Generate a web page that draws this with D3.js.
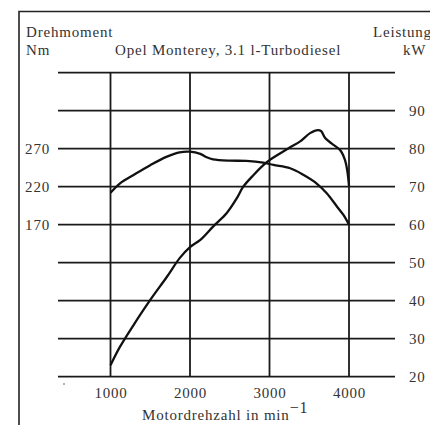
<!DOCTYPE html>
<html>
<head>
<meta charset="utf-8">
<script src="https://cdn.jsdelivr.net/npm/d3@7"></script>
<style>
  body { margin: 0; background: #fff; }
  svg text { font-family: "Liberation Serif", "Times New Roman", serif; fill: #333; letter-spacing: 0.8px; }
</style>
</head>
<body>
<svg id="chart" width="430" height="425"></svg>
<script>
// Motordrehzahl (min^-1) and Leistung (kW)
const powerRpm = [1000, 1120, 1290, 1500, 1710, 1870, 2000, 2130, 2290, 2460, 2590, 2670, 2800, 2940, 3000, 3240, 3390, 3510, 3610, 3650, 3700, 3780, 3890, 3950, 3980, 4000];
const powerKw  = [23, 27.9, 33.6, 40.2, 46.3, 51.2, 54.1, 56.0, 59.5, 63.0, 67.0, 70.0, 73.1, 76.0, 77.0, 80.1, 82.0, 84.1, 84.9, 84.6, 82.8, 81.4, 79.6, 77.0, 74.0, 70.2];

// Drehmoment (Nm)
const torqueRpm = [1000, 1120, 1290, 1500, 1710, 1870, 2000, 2130, 2210, 2290, 2500, 2710, 2920, 3050, 3260, 3430, 3590, 3720, 3850, 3930, 4000];
const torqueNm  = [212, 224.5, 235.4, 248.3, 259.5, 265.3, 266.1, 263.1, 258.7, 256.1, 254.3, 253.9, 251.6, 248.6, 244.3, 235.4, 224.5, 211.4, 193.7, 182.8, 170];

const rpmTicks = [1000, 2000, 3000, 4000];
const kwGrid = [20, 30, 40, 50, 60, 70, 80, 90, 100];
const kwLabels = [20, 30, 40, 50, 60, 70, 80, 90];
const nmLabels = [170, 220, 270];

const svg = d3.select('#chart');

const gridLeft = 58, gridRight = 395;
const x = d3.scaleLinear().domain([1000, 4000]).range([110.5, 349]);
const y = d3.scaleLinear().domain([20, 100]).range([376.7, 72.7]);
// torque axis shares the grid: 50 Nm per 10 kW, 270 Nm on the 80 kW line
const yNm = d3.scaleLinear().domain([-30, 370]).range([376.7, 72.7]);

// frame
svg.append('path')
  .attr('d', 'M19,425 L19,11.5 L430,11.5')
  .attr('fill', 'none').attr('stroke', '#222').attr('stroke-width', 1.6);

// grid
svg.append('g').selectAll('line').data(kwGrid).join('line')
  .attr('x1', gridLeft).attr('x2', gridRight)
  .attr('y1', d => y(d)).attr('y2', d => y(d))
  .attr('stroke', '#1a1a1a').attr('stroke-width', 1.8);
svg.append('g').selectAll('line').data(rpmTicks).join('line')
  .attr('x1', d => x(d)).attr('x2', d => x(d))
  .attr('y1', y(100)).attr('y2', y(20))
  .attr('stroke', '#1a1a1a').attr('stroke-width', 1.8);

// axes (labels only)
const leftAxis = svg.append('g').attr('transform', `translate(${gridLeft},0)`)
  .call(d3.axisLeft(yNm).tickValues(nmLabels).tickSize(0).tickPadding(8));
const rightAxis = svg.append('g').attr('transform', `translate(${gridRight},0)`)
  .call(d3.axisRight(y).tickValues(kwLabels).tickSize(0).tickPadding(14));
const bottomAxis = svg.append('g').attr('transform', `translate(0,${y(20)})`)
  .call(d3.axisBottom(x).tickValues(rpmTicks).tickFormat(d3.format('d')).tickSize(0).tickPadding(11));
[leftAxis, rightAxis, bottomAxis].forEach(g => {
  g.select('.domain').remove();
  g.attr('font-family', null).attr('font-size', null);
  g.selectAll('text').style('font-size', '15px').attr('fill', '#333');
});

// curves
const powerData = powerRpm.map((r, i) => [r, powerKw[i]]);
const torqueData = torqueRpm.map((r, i) => [r, torqueNm[i]]);

svg.append('path').datum(powerData)
  .attr('fill', 'none').attr('stroke', '#111').attr('stroke-width', 2.3)
  .attr('stroke-linejoin', 'round')
  .attr('d', d3.line().x(d => x(d[0])).y(d => y(d[1])).curve(d3.curveCatmullRom));
svg.append('path').datum(torqueData)
  .attr('fill', 'none').attr('stroke', '#111').attr('stroke-width', 2.3)
  .attr('stroke-linejoin', 'round')
  .attr('d', d3.line().x(d => x(d[0])).y(d => yNm(d[1])).curve(d3.curveCatmullRom));

// header texts
const hdr = [
  {t: 'Drehmoment', x: 26, y: 37},
  {t: 'Nm', x: 26, y: 55},
  {t: 'Opel Monterey, 3.1 l-Turbodiesel', x: 115, y: 55},
  {t: 'Leistung', x: 373, y: 37},
  {t: 'kW', x: 403, y: 55}
];
svg.append('g').selectAll('text').data(hdr).join('text')
  .attr('x', d => d.x).attr('y', d => d.y)
  .style('font-size', '15px')
  .text(d => d.t);

// x axis title with superscript
const title = svg.append('text').attr('x', 142).attr('y', 420).style('font-size', '15px');
title.append('tspan').text('Motordrehzahl in min');
title.append('tspan').attr('dy', -7).style('font-size', '16px').text('\u22121');

// small speck near origin
svg.append('circle').attr('cx', 64).attr('cy', 384).attr('r', 1).attr('fill', '#999');
</script>
</body>
</html>
